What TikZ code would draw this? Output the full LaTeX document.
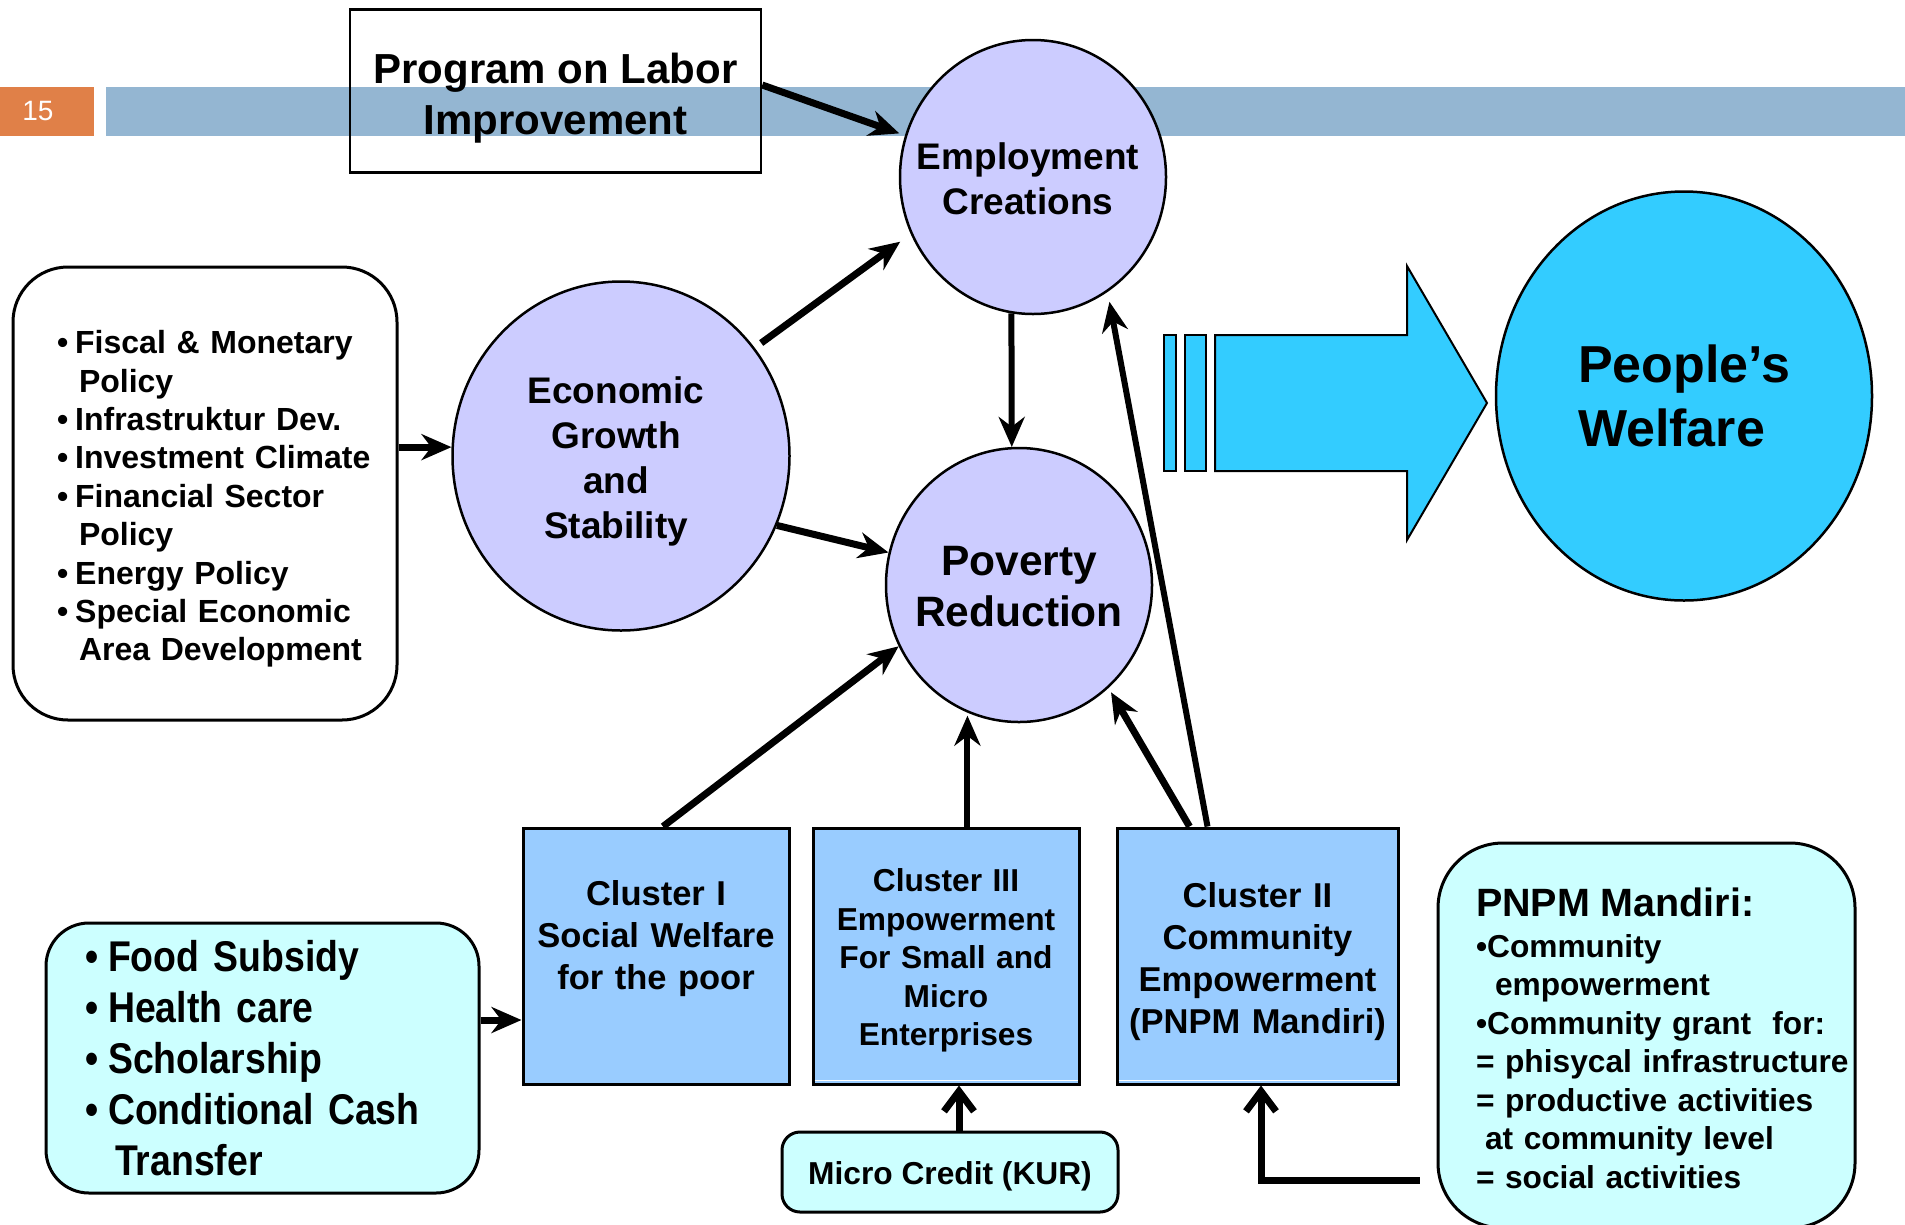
\documentclass[tikz,border=0pt]{standalone}
\usepackage{fontspec}
\setmainfont{Liberation Sans}
\newfontfamily\narrowsans[FakeStretch=0.87]{Liberation Sans}
\usetikzlibrary{arrows.meta, shapes.geometric}
\definecolor{barblue}{RGB}{148,182,210}
\definecolor{slideorange}{RGB}{224,128,72}
\definecolor{lavender}{RGB}{204,204,255}
\definecolor{clusterblue}{RGB}{153,204,255}
\definecolor{palecyan}{RGB}{204,255,255}
\definecolor{welfarecyan}{RGB}{51,204,255}
\newcommand{\fsz}[2]{\fontsize{#1}{#2}\selectfont}
\newcommand{\zw}[2][0pt]{\raisebox{-6pt}[\height][\depth]{\makebox[0pt]{\hspace{#1}\begin{tabular}{@{}c@{}}#2\end{tabular}}}}
\newcommand{\zwl}[1]{\raisebox{-6pt}[\height][\depth]{\makebox[0pt]{\begin{tabular}{@{}l@{}}#1\end{tabular}}}}
\newcommand{\dropby}[1]{\rule{0pt}{\dimexpr0.76em+#1\relax}}
\newcommand{\listbullet}[2]{\hspace*{#1}\textbullet\hspace{#2}}
\newcommand{\listindent}[1]{\hspace*{#1}}

\begin{document}
\begin{tikzpicture}[x=1pt, y=-1pt, >={Stealth[length=30pt,width=26pt]},
	bubble/.style={ellipse, draw, line width=2.5pt, fill=lavender, inner sep=0pt, font=\bfseries},
	cluster/.style={rectangle, draw, line width=3pt, fill=clusterblue, inner sep=0pt, minimum height=256pt, align=center},
	roundbox/.style={rectangle, rounded corners=#1, draw, line width=3pt, inner sep=0pt, align=left},
	link/.style={->, line width=7pt},
	barb/.style={-{Straight Barb[length=20pt,width=30pt]}, line width=7pt}]
	\useasboundingbox (0,0) rectangle (1905,1224);
	% slide header
	\fill[slideorange] (0,87) rectangle (94,136);
	\fill[barblue] (106,87) rectangle (1905,136);
	\node[text=white, font=\fsz{28}{34}] (slideno) at (38,111) {15};
	\node[draw, line width=2.5pt, minimum width=411pt, minimum height=163pt, align=center, font=\bfseries\fsz{42}{51}] (prog) at (555.5,91) {\dropby{12pt}Program on Labor\\Improvement};
	% goals
	\node[bubble, minimum width=266pt, minimum height=274pt] (emp) at (1033,177) {\fsz{37}{45}\zw[-10pt]{Employment\\Creations}};
	\node[bubble, minimum width=337pt, minimum height=349pt] (econ) at (621,456) {\fsz{37}{45}\zw[-10pt]{Economic\\Growth\\and\\Stability}};
	\node[bubble, minimum width=266pt, minimum height=274pt] (pov) at (1019,585) {\fsz{42.5}{51}\zw{Poverty\\Reduction}};
	\node[bubble, fill=welfarecyan, minimum width=376pt, minimum height=409pt] (welfare) at (1684,396) {\fsz{52}{64}\zwl{People's\\Welfare}};
	% big arrow
	\draw[fill=welfarecyan, line width=2pt] (1215,335) -- (1407,335) -- (1407,266) -- (1487,403) -- (1407,540) -- (1407,471) -- (1215,471) -- cycle;
	\foreach \a/\b in {1164/1176, 1185/1206} \draw[fill=welfarecyan, line width=2pt] (\a,335) rectangle (\b,471);
	% policy boxes
	\node[roundbox=55pt, fill=white, minimum width=384pt, minimum height=453pt, text width=340pt, inner xsep=22pt, font=\bfseries\fsz{32}{38.4}] (pol) at (205,493.5) {\dropby{10pt}\listbullet{22pt}{7pt}Fiscal \& Monetary\\ \listindent{44pt}Policy\\ \listbullet{22pt}{7pt}Infrastruktur Dev.\\ \listbullet{22pt}{7pt}Investment Climate\\ \listbullet{22pt}{7pt}Financial Sector\\ \listindent{44pt}Policy\\ \listbullet{22pt}{7pt}Energy Policy\\ \listbullet{22pt}{7pt}Special Economic\\ \listindent{44pt}Area Development};
	\node[roundbox=43pt, fill=palecyan, minimum width=433pt, minimum height=270pt, text width=433pt, font=\narrowsans\bfseries\fsz{43}{51}] (food) at (262.5,1058) {\listbullet{39pt}{10pt}Food Subsidy\\ \listbullet{39pt}{10pt}Health care\\ \listbullet{39pt}{10pt}Scholarship\\ \listbullet{39pt}{10pt}Conditional Cash\\ \listindent{69pt}Transfer};
	\node[cluster, minimum width=266pt, text width=266pt, font=\bfseries\fsz{34.5}{42}] (cl1) at (656,956) {Cluster I\\Social Welfare\\for the poor\\\mbox{}};
	\node[cluster, minimum width=266pt, text width=266pt, font=\bfseries\fsz{31.7}{38.5}] (cl3) at (946,956) {\dropby{8pt}Cluster III\\Empowerment\\For Small and\\Micro\\Enterprises};
	\node[cluster, minimum width=281pt, text width=281pt, font=\bfseries\fsz{34.5}{42}] (cl2) at (1257.5,956) {\dropby{10pt}Cluster II\\Community\\Empowerment\\(PNPM Mandiri)};
	\foreach \n in {cl3, cl2} \draw[white, line width=1.5pt] ([xshift=3pt,yshift=5pt]\n.south west) -- ([xshift=-3pt,yshift=5pt]\n.south east);
	\node[roundbox=18pt, fill=palecyan, minimum width=336pt, minimum height=80pt, align=center, font=\bfseries\fsz{31.7}{38}] (kur) at (950,1172) {\dropby{8pt}Micro Credit (KUR)};
	\node[roundbox=65pt, fill=palecyan, minimum width=417pt, minimum height=385pt, text width=417pt, font=\bfseries\fsz{31.7}{38.5}] (pnpm) at (1646.5,1035.5) {\listindent{38pt}{\fsz{39.5}{38.5}\dropby{4pt}PNPM Mandiri:}\\[2pt] \listindent{38pt}\textbullet Community\\ \listindent{57pt}empowerment\\ \listindent{38pt}\textbullet Community grant\ \ for:\\ \listindent{38pt}= phisycal infrastructure\\ \listindent{38pt}= productive activities\\ \listindent{47pt}at community level\\ \listindent{38pt}= social activities};
	% connectors
	\draw[link, shorten >=6pt] ([yshift=6pt]prog.east) -- (emp.162);
	\draw[link, shorten <=8pt, shorten >=13pt] (econ.39) -- (emp.205);
	\draw[link] (econ.-24) -- (pov.166);
	\draw[link, line width=6pt] (emp.261) -- (pov.93);
	\draw[link] ([xshift=7pt]cl1.north) -- (pov.207);
	\draw[link, line width=6pt, shorten >=3pt] (pov.248 |- cl3.north) -- (pov.248);
	\draw[link, shorten >=5pt] ([xshift=-68pt]cl2.north) -- (pov.-49);
	\draw[link, line width=6pt, shorten >=10pt] ([xshift=-50pt]cl2.north) -- (emp.-57);
	\draw[link] (pol.east |- econ.177) -- (econ.177);
	\coordinate (foodout) at ([yshift=38pt]food.east);
	\draw[link] (foodout) -- (foodout -| cl1.west);
	\coordinate (kurout) at ([xshift=9pt]kur.north);
	\draw[barb] (kurout) -- (kurout |- cl3.south);
	\coordinate (pnpmout) at ([xshift=-17pt,yshift=-144.5pt]pnpm.west);
	\draw[barb] (pnpmout) -| ([xshift=3.5pt]cl2.south);
\end{tikzpicture}
\end{document}
